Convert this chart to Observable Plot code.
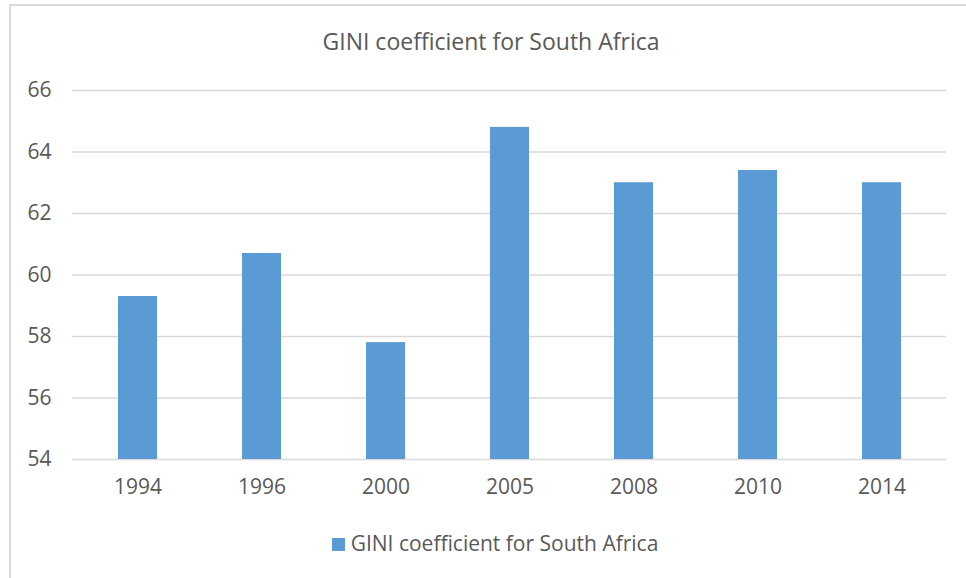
<!DOCTYPE html>
<html>
<head>
<meta charset="utf-8">
<script src="https://cdn.jsdelivr.net/npm/d3@7"></script>
<script src="https://cdn.jsdelivr.net/npm/@observablehq/plot@0.6"></script>
<style>
  html, body { margin: 0; padding: 0; background: #fff; }
  #frame {
    position: relative; width: 966px; height: 578px; overflow: hidden;
    font-family: "Open Sans", sans-serif; color: #595959;
  }
  #border {
    position: absolute; left: 9px; top: 4px; width: 980px; height: 600px;
    border: 2px solid #d9d9d9; box-sizing: border-box;
  }
  #title {
    position: absolute; left: 0; top: 25px; width: 982px; text-align: center;
    font-size: 23px; line-height: 32px;
  }
  #chart { position: absolute; left: 0; top: 70px; }
  #legend {
    position: absolute; left: 0; top: 528px; width: 990px; text-align: center;
    font-size: 21px; line-height: 30px; white-space: nowrap;
  }
  #legend .sw {
    display: inline-block; width: 13px; height: 13px; background: #5b9bd5;
    margin-right: 6px; vertical-align: 0px;
  }
</style>
</head>
<body>
<div id="frame">
  <div id="border"></div>
  <div id="title">GINI coefficient for South Africa</div>
  <div id="chart"></div>
  <div id="legend"><span class="sw"></span>GINI coefficient for South Africa</div>
</div>
<script>
// Survey years and GINI coefficient values
const years = ["1994", "1996", "2000", "2005", "2008", "2010", "2014"];
const gini = [59.3, 60.7, 57.8, 64.8, 63.0, 63.4, 63.0];
const yTicks = [54, 56, 58, 60, 62, 64, 66];
const seriesName = "GINI coefficient for South Africa";

const rows = years.map((year, i) => ({year, value: gini[i]}));

const chart = Plot.plot({
  width: 966,
  height: 440,
  marginTop: 20,
  marginBottom: 51,
  marginLeft: 72,
  marginRight: 20,
  style: {fontFamily: "Open Sans, sans-serif", fontSize: "21px", color: "#595959", background: "transparent"},
  x: {domain: years, paddingInner: 0.687, paddingOuter: 0.3435, label: null},
  y: {domain: [54, 66], ticks: yTicks, label: null},
  marks: [
    Plot.ruleY(yTicks, {stroke: "#d9d9d9", strokeWidth: 1.5}),
    Plot.barY(rows, {x: "year", y1: 54, y2: "value", fill: "#5b9bd5", title: d => `${seriesName}: ${d.value}`}),
    Plot.axisY({ticks: yTicks, tickSize: 0, tickPadding: 21, label: null, fontSize: 21}),
    Plot.axisX({tickSize: 0, tickPadding: 20, label: null, fontSize: 21})
  ]
});
document.getElementById("chart").append(chart);
</script>
</body>
</html>
